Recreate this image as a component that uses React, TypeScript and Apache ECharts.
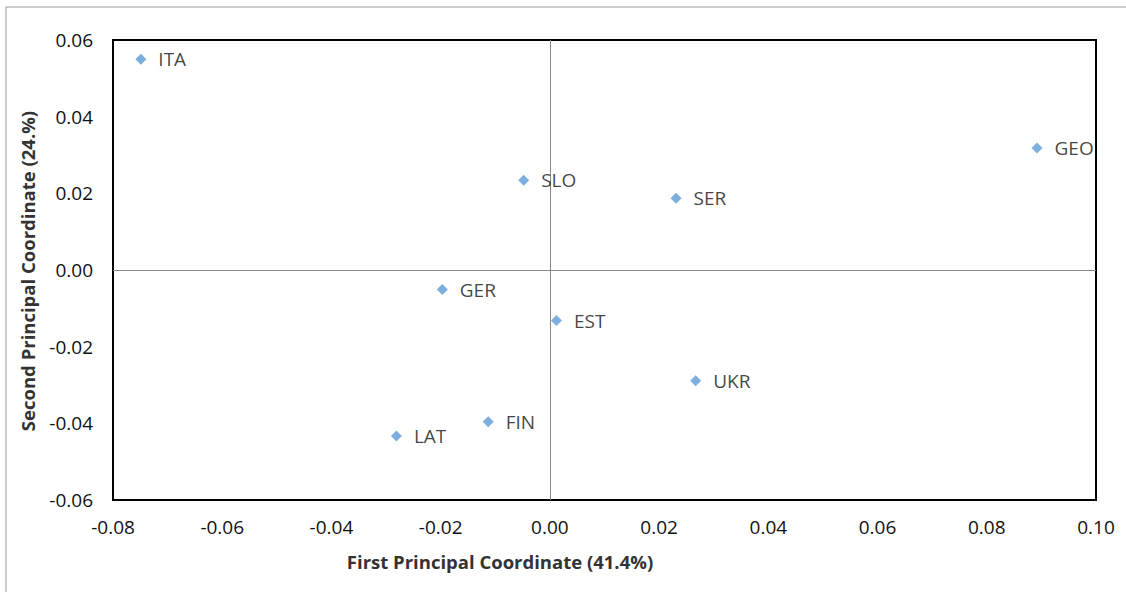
import React, { useEffect, useRef } from "react";
import * as echarts from "echarts";

const countries = ["ITA", "GEO", "SLO", "SER", "GER", "EST", "UKR", "FIN", "LAT"];
const firstCoord = [-0.0749, 0.0892, -0.0048, 0.0231, -0.0197, 0.0012, 0.0267, -0.0113, -0.0281];
const secondCoord = [0.0550, 0.0318, 0.0234, 0.0187, -0.0051, -0.0132, -0.0289, -0.0396, -0.0433];
const xTitle = "First Principal Coordinate (41.4%)";
const yTitle = "Second Principal Coordinate (24.%)";

const FONT = "'Open Sans', 'Liberation Sans', sans-serif";

export default function App() {
  const ref = useRef<HTMLDivElement>(null);
  useEffect(() => {
    if (!ref.current) return;
    const chart = echarts.init(ref.current, null, { renderer: "svg" });
    const data = countries.map((c, i) => ({ name: c, value: [firstCoord[i], secondCoord[i]] }));
    chart.setOption({
      animation: false,
      backgroundColor: "#fff",
      grid: {
        left: 113,
        top: 40,
        right: 1126 - 1096,
        bottom: 592 - 500,
        show: true,
        borderColor: "#000",
        borderWidth: 2,
        containLabel: false,
      },
      xAxis: {
        type: "value",
        min: -0.08,
        max: 0.1,
        interval: 0.02,
        axisLine: { show: false },
        axisTick: { show: false },
        splitLine: { show: false },
        axisLabel: {
          color: "#111",
          fontSize: 19,
          fontFamily: FONT,
          margin: 17,
          formatter: (v: number) => v.toFixed(2),
        },
      },
      yAxis: {
        type: "value",
        min: -0.06,
        max: 0.06,
        interval: 0.02,
        axisLine: { show: false },
        axisTick: { show: false },
        splitLine: { show: false },
        axisLabel: {
          color: "#111",
          fontSize: 19,
          fontFamily: FONT,
          margin: 20,
          formatter: (v: number) => v.toFixed(2),
        },
      },
      graphic: [
        {
          type: "rect",
          shape: { x: 6, y: 7, width: 1140, height: 620 },
          style: { fill: "none", stroke: "#999", lineWidth: 1 },
          silent: true,
          z: -1,
        },
        {
          type: "text",
          x: 500,
          y: 561,
          style: {
            text: xTitle,
            font: `bold 18.5px ${FONT}`,
            fill: "#333",
            align: "center",
            verticalAlign: "middle",
          },
        },
        {
          type: "text",
          x: 27,
          y: 271,
          rotation: Math.PI / 2,
          style: {
            text: yTitle,
            font: `bold 18.5px ${FONT}`,
            fill: "#333",
            align: "center",
            verticalAlign: "middle",
          },
        },
      ],
      series: [
        {
          type: "scatter",
          symbol: "diamond",
          symbolSize: 11,
          itemStyle: { color: "#5B9BD5" },
          data,
          label: {
            show: true,
            position: "right",
            distance: 12,
            formatter: (p: any) => p.name,
            color: "#111",
            fontSize: 19,
            fontFamily: FONT,
          },
          markLine: {
            silent: true,
            symbol: "none",
            label: { show: false },
            lineStyle: { color: "#888", width: 1, type: "solid" },
            data: [{ xAxis: 0 }, { yAxis: 0 }],
            z: 1,
          },
          z: 3,
        },
      ],
    });
    return () => chart.dispose();
  }, []);
  return <div ref={ref} style={{ width: 1126, height: 592, position: "absolute", left: 0, top: 0 }} />;
}
